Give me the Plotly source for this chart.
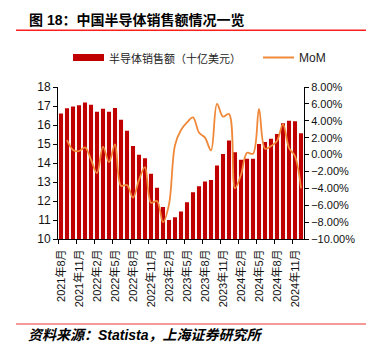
import plotly.graph_objects as go

# ---- data ----
years = [2021] * 5 + [2022] * 12 + [2023] * 12 + [2024] * 12
month_nums = [8, 9, 10, 11, 12] + list(range(1, 13)) * 3
months = [f"{y}年{m}月" for y, m in zip(years, month_nums)]

sales = [16.60, 16.88, 16.98, 17.04, 17.18, 17.07, 16.70, 16.86, 16.70, 16.89,
         16.28, 15.70, 14.89, 14.44, 14.25, 13.44, 12.70, 11.68, 11.00, 11.14,
         11.45, 11.93, 12.46, 12.77, 13.03, 13.10, 13.87, 14.48, 15.18, 14.57,
         14.17, 14.22, 14.22, 15.00, 15.11, 15.27, 15.52, 16.09, 16.23, 16.20,
         15.57]

mom = [None, 1.7, 0.55, 0.4, 0.85, -0.6, -2.2, 0.95, -0.9, 1.2,
       -3.7, -3.6, -5.1, -3.0, -1.5, -5.7, -5.5, -8.0, -5.9, 1.1,
       2.9, 3.8, 4.4, 2.6, 2.0, 0.5, 6.0, 4.5, 4.8, -4.0,
       -2.4, 0.2, 0.1, 5.4, 0.7, 1.0, 1.6, 3.6, 0.8, -0.2,
       -4.0]

bar_name = "半导体销售额（十亿美元）"
line_name = "MoM"
title_text = "图 18：中国半导体销售额情况一览"
source_text = "资料来源：Statista，上海证券研究所"

label_months = months[::3]

# ---- layout geometry (pixels) ----
W, H = 373, 354
L, R, T, B = 58, 304, 87, 239

def px(xp):
    return (xp - L) / (R - L)

def py(yp):
    return (B - yp) / (B - T)

BAR_COLOR = "#C00000"
LINE_COLOR = "#F0883A"
FONT = "Liberation Sans, Noto Sans CJK SC, sans-serif"

fig = go.Figure()
fig.add_trace(go.Bar(x=months, y=sales, name=bar_name, marker_color=BAR_COLOR,
                     marker_line_width=0, yaxis="y", showlegend=False))
fig.add_trace(go.Scatter(x=months, y=mom, name=line_name, mode="lines",
                         line=dict(color=LINE_COLOR, width=1.8, shape="spline", smoothing=1),
                         yaxis="y2", showlegend=False, connectgaps=False))
# dummy trace for boundary tick axis
fig.add_trace(go.Scatter(x=[], y=[], xaxis="x2", yaxis="y", showlegend=False, hoverinfo="skip"))

n = len(months)
boundary_ticks = [i - 0.5 for i in range(0, n, 3)]

fig.update_layout(
    width=W, height=H,
    margin=dict(l=L, r=W - R, t=T, b=H - B, pad=0),
    paper_bgcolor="white", plot_bgcolor="white",
    bargap=0.32,
    font=dict(family=FONT, size=11, color="#111"),
    xaxis=dict(type="category", range=[-0.5, n - 0.5], tickmode="array",
               tickvals=label_months, ticktext=label_months, tickangle=-90,
               ticks="", showline=True, linecolor="#000", linewidth=1,
               showgrid=False, zeroline=False, ticklabelstandoff=5,
               tickfont=dict(size=11, family=FONT, color="#111")),
    xaxis2=dict(overlaying="x", anchor="y", side="bottom", range=[-0.5, n - 0.5],
                tickmode="array", tickvals=boundary_ticks, ticks="outside",
                ticklen=4, tickcolor="#000", tickwidth=1, showticklabels=False,
                showline=False, showgrid=False, zeroline=False),
    yaxis=dict(range=[10, 18], dtick=1, tick0=10, ticks="outside", ticklen=4,
               tickcolor="#000", showline=True, linecolor="#000", linewidth=1,
               showgrid=False, zeroline=False,
               tickfont=dict(size=12, family=FONT, color="#111")),
    yaxis2=dict(range=[-10, 8], dtick=2, tick0=-10, overlaying="y", side="right",
                tickformat=".2f", ticksuffix="%", ticks="outside", ticklen=4,
                tickcolor="#000", showline=True, linecolor="#000", linewidth=1,
                showgrid=False, zeroline=False,
                tickfont=dict(size=11, family=FONT, color="#111")),
)

shapes = [
    # title underline
    dict(type="line", xref="paper", yref="paper", x0=px(16), x1=px(366),
         y0=py(30.3), y1=py(30.3), line=dict(color="#FF1E1E", width=1.5)),
    # source overline
    dict(type="line", xref="paper", yref="paper", x0=px(16), x1=px(366),
         y0=py(324), y1=py(324), line=dict(color="#F07878", width=1.5)),
    # legend swatches
    dict(type="rect", xref="paper", yref="paper", x0=px(73), x1=px(104),
         y0=py(61), y1=py(54), fillcolor=BAR_COLOR, line=dict(width=0)),
    dict(type="line", xref="paper", yref="paper", x0=px(263), x1=px(294),
         y0=py(57.5), y1=py(57.5), line=dict(color=LINE_COLOR, width=2)),
]

annotations = [
    dict(text=f"<b>{title_text}</b>", xref="paper", yref="paper", x=px(27), y=py(20),
         xanchor="left", yanchor="middle", showarrow=False,
         font=dict(size=14, family="Liberation Sans, Noto Sans CJK SC", color="#000")),
    dict(text=f"<b><i>{source_text}</i></b>", xref="paper", yref="paper", x=px(26), y=py(335),
         xanchor="left", yanchor="middle", showarrow=False,
         font=dict(size=14, family="Liberation Sans, Noto Sans CJK SC", color="#000")),
    dict(text=bar_name, xref="paper", yref="paper", x=px(107), y=py(57.5),
         xanchor="left", yanchor="middle", showarrow=False,
         font=dict(size=11, family="Noto Sans CJK SC", color="#222")),
    dict(text=line_name, xref="paper", yref="paper", x=px(297), y=py(57.5),
         xanchor="left", yanchor="middle", showarrow=False,
         font=dict(size=12, family=FONT, color="#222")),
]

fig.update_layout(shapes=shapes, annotations=annotations)
fig.write_html("out.html")
